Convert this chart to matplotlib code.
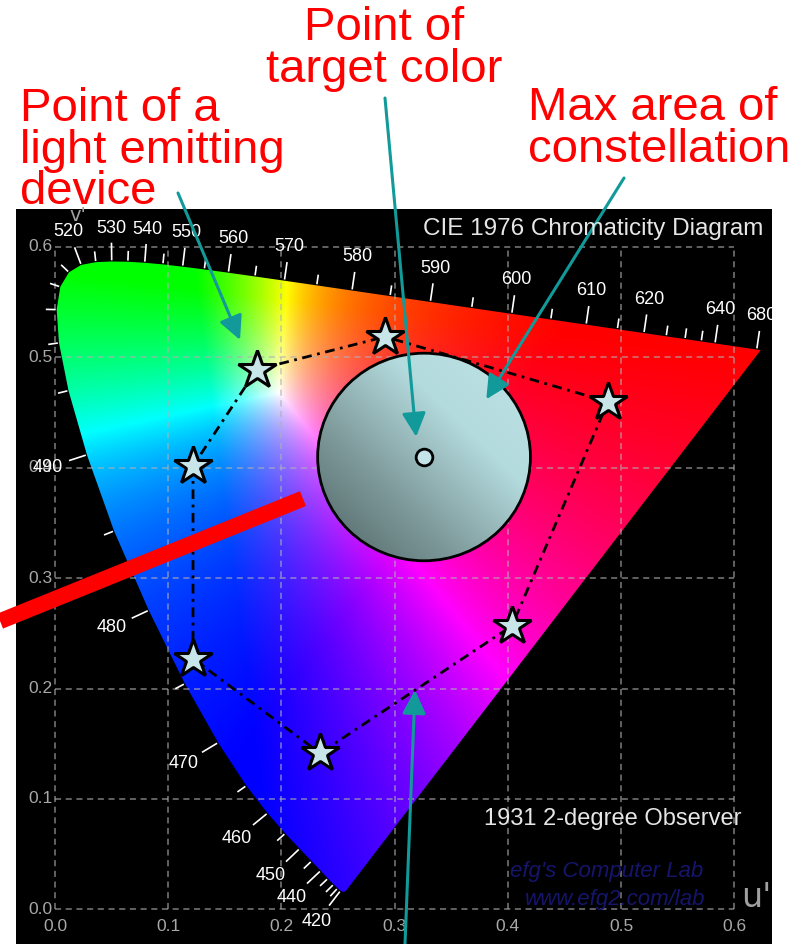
import numpy as np
import matplotlib
matplotlib.use('Agg')
import matplotlib.pyplot as plt
from matplotlib.patches import Polygon, Ellipse
from matplotlib.colors import LinearSegmentedColormap

# CIE 1931 2-degree spectral locus (x, y chromaticity), 5 nm steps
wavelengths = list(range(380, 701, 5))
locus_x = [0.1741, 0.1740, 0.1738, 0.1736, 0.1733, 0.1730, 0.1726, 0.1721, 0.1714, 0.1703,
           0.1689, 0.1669, 0.1644, 0.1611, 0.1566, 0.1510, 0.1440, 0.1355, 0.1241, 0.1096,
           0.0913, 0.0687, 0.0454, 0.0235, 0.0082, 0.0039, 0.0139, 0.0389, 0.0743, 0.1142,
           0.1547, 0.1929, 0.2296, 0.2658, 0.3016, 0.3373, 0.3731, 0.4087, 0.4441, 0.4788,
           0.5125, 0.5448, 0.5752, 0.6029, 0.6270, 0.6482, 0.6658, 0.6801, 0.6915, 0.7006,
           0.7079, 0.7140, 0.7190, 0.7230, 0.7260, 0.7283, 0.7300, 0.7311, 0.7320, 0.7327,
           0.7334, 0.7340, 0.7344, 0.7346, 0.7347]
locus_y = [0.0050, 0.0050, 0.0049, 0.0049, 0.0048, 0.0048, 0.0048, 0.0048, 0.0051, 0.0058,
           0.0069, 0.0086, 0.0109, 0.0138, 0.0177, 0.0227, 0.0297, 0.0399, 0.0578, 0.0868,
           0.1327, 0.2007, 0.2950, 0.4127, 0.5384, 0.6548, 0.7502, 0.8120, 0.8338, 0.8262,
           0.8059, 0.7816, 0.7543, 0.7243, 0.6923, 0.6589, 0.6245, 0.5896, 0.5547, 0.5202,
           0.4866, 0.4544, 0.4242, 0.3965, 0.3725, 0.3514, 0.3340, 0.3197, 0.3083, 0.2993,
           0.2920, 0.2859, 0.2809, 0.2770, 0.2740, 0.2717, 0.2700, 0.2689, 0.2680, 0.2673,
           0.2666, 0.2660, 0.2656, 0.2654, 0.2653]

labelled_wl = [420, 440, 450, 460, 470, 480, 490, 520, 530, 540, 550, 560,
               570, 580, 590, 600, 610, 620, 640, 680]
tick_wl = list(range(420, 641, 5)) + [680]
grid_ticks = [0.0, 0.1, 0.2, 0.3, 0.4, 0.5, 0.6]

# light emitting devices (u', v'), in constellation order
device_u = [0.178, 0.2915, 0.4885, 0.4037, 0.2341, 0.1219, 0.1219]
device_v = [0.4887, 0.5186, 0.4597, 0.2568, 0.1414, 0.2271, 0.4016]

target_u, target_v = 0.326, 0.4097
max_radius = 0.094

pointer_u = [-0.0486, 0.219]
pointer_v = [0.261, 0.372]

# annotation targets (u', v') and label-side starts (figure px, from top-left)
arrow_tips = [(0.1634, 0.5157), (0.319, 0.428), (0.381, 0.462), (0.318, 0.1986)]
arrow_starts = [(178, 193), (385, 98), (624, 178), (405, 944)]

W, H = 806, 944
fig = plt.figure(figsize=(W / 100, H / 100), dpi=100)
fig.patch.set_facecolor('white')

ax_left, ax_top, ax_w, ax_h = 16, 209, 756, 735
ax = fig.add_axes([ax_left / W, 0, ax_w / W, ax_h / H])
ax.set_facecolor('black')
xlim = (-0.0345, 0.6334)
ylim = (-0.0314, 0.6343)
px_u = ax_w / (xlim[1] - xlim[0])
px_v = ax_h / (ylim[1] - ylim[0])


def xy_to_uv(x, y):
    d = -2 * x + 12 * y + 3
    return 4 * x / d, 9 * y / d


u_loc, v_loc = xy_to_uv(np.array(locus_x), np.array(locus_y))

# colour fill of the horseshoe (linear RGB, normalised to max channel)
uu, vv = np.meshgrid(np.linspace(xlim[0], xlim[1], 700), np.linspace(ylim[0], ylim[1], 700))
den = 6 * uu - 16 * vv + 12
cx = 9 * uu / den
cy = np.clip(4 * vv / den, 1e-4, None)
X = cx / cy
Z = (1 - cx - cy) / cy
M = np.array([[3.2406, -1.5372, -0.4986],
              [-0.9689, 1.8758, 0.0415],
              [0.0557, -0.2040, 1.0570]])
rgb = np.einsum('ij,jkl->kli', M, np.stack([X, np.ones_like(X), Z]))
rgb = np.clip(rgb, 0, None)
rgb = rgb / np.clip(rgb.max(axis=2, keepdims=True), 1e-9, None)
locus_patch = Polygon(np.column_stack([u_loc, v_loc]), closed=True, transform=ax.transData)
img = ax.imshow(rgb, origin='lower', extent=[xlim[0], xlim[1], ylim[0], ylim[1]],
                aspect='auto', interpolation='bilinear', zorder=1)
img.set_clip_path(locus_patch)

# dashed grid inside 0..0.6
for t in grid_ticks:
    ax.plot([t, t], [0, 0.6], color='#b0b0b0', lw=1.1, ls=(0, (4, 3)), alpha=0.7, zorder=2)
    ax.plot([0, 0.6], [t, t], color='#b0b0b0', lw=1.1, ls=(0, (4, 3)), alpha=0.7, zorder=2)
    ax.text(t, -0.016, f'{t:.1f}', ha='center', va='center', color='#a8a8a8', fontsize=12.5,
            family='Liberation Sans')
    ax.text(-0.002, t, f'{t:.1f}', ha='right', va='center', color='#a8a8a8', fontsize=12.5,
            family='Liberation Sans')

# wavelength ticks and labels
for w in tick_wl:
    i = wavelengths.index(w)
    du = (u_loc[i + 1] - u_loc[i - 1]) * px_u
    dv = (v_loc[i + 1] - v_loc[i - 1]) * px_v
    n = np.array([-dv, du]) / np.hypot(du, dv)
    length = 18 if w in labelled_wl else 10
    ax.plot([u_loc[i] + n[0] * 2 / px_u, u_loc[i] + n[0] * length / px_u],
            [v_loc[i] + n[1] * 2 / px_v, v_loc[i] + n[1] * length / px_v],
            color='white', lw=1.2, zorder=3, clip_on=False)
    if w in labelled_wl:
        d = 33 + 9 * abs(n[0])
        ax.annotate(str(w), (u_loc[i], v_loc[i]), xytext=(n[0] * d, n[1] * d),
                    textcoords='offset pixels', ha='center', va='center',
                    color='white', fontsize=13, family='Liberation Sans', zorder=3)

ax.text(0.013, 0.628, "v'", color='#a0a0a0', fontsize=14, ha='left', va='center')
ax.text(0.606, -0.004, "u'", color='#a0a0a0', fontsize=24, ha='left', va='bottom')

# max area circle with gradient
circle = Ellipse((target_u, target_v), 2 * max_radius, 2 * max_radius, transform=ax.transData,
                 facecolor='none', edgecolor='black', lw=2, zorder=6)
ax.add_patch(circle)
g = np.linspace(0, 1, 200)
grad = (g[None, :] + g[:, None]) / 2
cmap = LinearSegmentedColormap.from_list('circ', ['#4d6262', '#7e999a', '#b3dadd', '#bfe3e6'])
gimg = ax.imshow(grad, origin='lower', cmap=cmap, aspect='auto', zorder=5,
                 extent=[target_u - max_radius, target_u + max_radius,
                         target_v - max_radius, target_v + max_radius])
gimg.set_clip_path(circle)

# constellation polygon and device stars
ax.plot(device_u + device_u[:1], device_v + device_v[:1], color='black', lw=2,
        ls=(0, (3.5, 2, 1, 2)), zorder=7)
ax.plot(device_u, device_v, ls='none', marker='*', ms=29, mfc='#c8e6ea', mec='black',
        mew=2.2, zorder=8)
ax.plot([target_u], [target_v], ls='none', marker='o', ms=12, mfc='#c4e4e8', mec='black',
        mew=2, zorder=8)

# red pointer bar
ax.plot(pointer_u, pointer_v, color='red', lw=11.5, solid_capstyle='butt', zorder=9,
        clip_on=False)

for (tu, tv), (sx, sy) in zip(arrow_tips, arrow_starts):
    ax.annotate('', xy=(tu, tv), xycoords='data', xytext=(sx, H - sy),
                textcoords='figure pixels', annotation_clip=False,
                arrowprops=dict(arrowstyle='-|>,head_length=0.9,head_width=0.45',
                                color='#129a9a', lw=2.2, mutation_scale=16,
                                shrinkA=0, shrinkB=0), zorder=10)

ax.set_xlim(*xlim)
ax.set_ylim(*ylim)
ax.set_xticks([])
ax.set_yticks([])
for s in ax.spines.values():
    s.set_visible(False)

# overlay in figure pixels for text
ov = fig.add_axes([0, 0, 1, 1], zorder=5)
ov.set_xlim(0, W)
ov.set_ylim(H, 0)
ov.axis('off')
red_font = dict(color='red', fontsize=34, family='Liberation Sans', linespacing=0.93)
ov.text(384, 6, 'Point of\ntarget color', ha='center', va='top', **red_font)
ov.text(20, 87, 'Point of a\nlight emitting\ndevice', ha='left', va='top', **red_font)
ov.text(528, 86, 'Max area of\nconstellation', ha='left', va='top', **red_font)
ov.text(763, 235, 'CIE 1976 Chromaticity Diagram', ha='right', va='baseline',
        color='#e6e6e6', fontsize=17.5, family='Liberation Sans')
ov.text(742, 825, '1931 2-degree Observer', ha='right', va='baseline',
        color='#e6e6e6', fontsize=17, family='Liberation Sans')
ov.text(607, 877, "efg's Computer Lab", ha='center', va='baseline', color='#15156c',
        fontsize=16, style='italic', family='Liberation Sans')
ov.text(615, 905, 'www.efg2.com/lab', ha='center', va='baseline', color='#15156c',
        fontsize=16, style='italic', family='Liberation Sans')

fig.savefig('out.png', dpi=100)
